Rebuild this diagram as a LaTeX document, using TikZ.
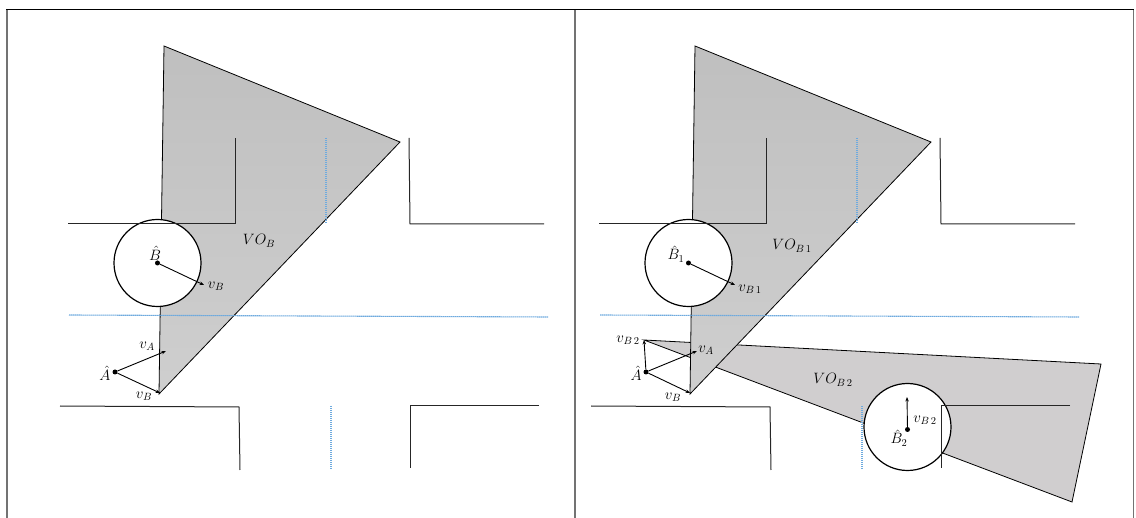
\documentclass[tikz,border=0pt]{standalone}
\usepackage{fix-cm}
\usetikzlibrary{arrows.meta}

\definecolor{conefilltwo}{RGB}{208,206,207}
\definecolor{lanecolor}{RGB}{110,170,222}

\tikzset{
  wall/.style={draw=black!85, line width=1pt},
  lane/.style={draw=lanecolor, line width=1.1pt, dash pattern=on 1.5pt off 0.5pt},
  conetop/.style={draw=black, line width=0.8pt, top color=black!25, bottom color=black!19},
  conelow/.style={draw=black, line width=0.8pt, fill=conefilltwo},
  agent/.style={draw=black, line width=1.2pt, fill=white, circle, minimum size=87pt, inner sep=0pt},
  dot/.style={fill=black, circle, minimum size=5pt, inner sep=0pt},
  vel/.style={-{Stealth[length=4.5pt,width=3.5pt]}, line width=0.9pt},
  lab/.style={inner sep=0pt, font=\fontsize{15}{18}\selectfont}
}

\begin{document}
\begin{tikzpicture}[x=1pt, y=-1pt]
    \useasboundingbox (0,0) rectangle (1136,518);

    % velocity obstacles
    \draw[conetop] (164,46) -- (400,142) -- (159,394) -- cycle;
    \draw[conelow] (644,340) -- (1101,364) -- (1072,502) -- cycle;
    \draw[conetop] (695,46) -- (931,142) -- (690,394) -- cycle;

    % agents
    \node[agent] (agentBl) at (157.5,263) {};
    \node[agent] (agentBr) at (688.5,263) {};
    \node[agent] (agentBtwo) at (907.5,427) {};

    % left roads
    \draw[wall] (68,224) -- (235,224) -- (235,138);
    \draw[wall] (409,138) -- (410,224) -- (544,224);
    \draw[wall] (60,406) -- (239,407) -- (240,470);
    \draw[wall] (539,406) -- (410,406) -- (410,468);
    \draw[lane] (326,138) -- (326,224);
    \draw[lane] (69,315) -- (548,317);
    \draw[lane] (331,406) -- (331,470);

    % right roads
    \draw[wall] (599,224) -- (766,224) -- (766,138);
    \draw[wall] (940,138) -- (941,224) -- (1075,224);
    \draw[wall] (591,406) -- (770,407) -- (771,470);
    \draw[wall] (1070,406) -- (941,406) -- (941,468);
    \draw[lane] (857,138) -- (857,224);
    \draw[lane] (600,315) -- (1079,317);
    \draw[lane] (862,406) -- (862,470);

    % frame
    \draw[line width=1.4pt, black!55] (7,518) -- (7,10);
    \draw[line width=1.4pt, black!55] (575,10) -- (575,518);
    \draw[line width=1.4pt, black!55] (1133.5,10) -- (1133.5,518);
    \draw[line width=1pt, black] (6,10) -- (1134,10);

    % left velocities
    \node[dot] (centerBl) at (agentBl) {};
    \node[dot] (posAl) at (115,372) {};
    \coordinate (tipBl) at (204,285);
    \coordinate (tipAl) at (166,351);
    \coordinate (tipBAl) at (160,393);
    \draw[vel] (centerBl) -- (tipBl);
    \draw[vel] (posAl) -- (tipAl);
    \draw[vel] (posAl) -- (tipBAl);

    % right velocities
    \node[dot] (centerBr) at (agentBr) {};
    \node[dot] (posAr) at (646,372) {};
    \node[dot] (centerBtwo) at (907.5,429.5) {};
    \coordinate (tipBr) at (735,285);
    \coordinate (tipAr) at (697,351);
    \coordinate (tipBAr) at (690,393);
    \coordinate (tipBtwoAr) at (644,340);
    \coordinate (tipBtwo) at (907,397);
    \draw[vel] (centerBr) -- (tipBr);
    \draw[vel] (posAr) -- (tipAr);
    \draw[vel] (posAr) -- (tipBAr);
    \draw[vel] (posAr) -- (tipBtwoAr);
    \draw[vel] (centerBtwo) -- (tipBtwo);

    % left labels
    \node[lab] (voBl) at (259,241) {$VO_B$};
    \node[lab] (hatBl) at (155,253) {$\hat{B}$};
    \node[lab] (vBl) at (216,286) {$v_B$};
    \node[lab] (vAl) at (147,346) {$v_A$};
    \node[lab] (hatAl) at (105,373) {$\hat{A}$};
    \node[lab] (vBAl) at (144,396) {$v_B$};

    % right labels
    \node[lab] (voBr) at (792,246) {$VO_{B\,1}$};
    \node[lab] (hatBr) at (676,254) {$\hat{B}_1$};
    \node[lab] (vBr) at (750,289) {$v_{B\,1}$};
    \node[lab] (vBtwoAr) at (628,340) {$v_{B\,2}$};
    \node[lab] (vAr) at (706,350) {$v_A$};
    \node[lab] (hatAr) at (636,373) {$\hat{A}$};
    \node[lab] (vBAr) at (673,397) {$v_B$};
    \node[lab] (voBtwo) at (833,380) {$VO_{B\,2}$};
    \node[lab] (vBtwo) at (925,420) {$v_{B\,2}$};
    \node[lab] (hatBtwo) at (899,438) {$\hat{B}_2$};
\end{tikzpicture}
\end{document}
